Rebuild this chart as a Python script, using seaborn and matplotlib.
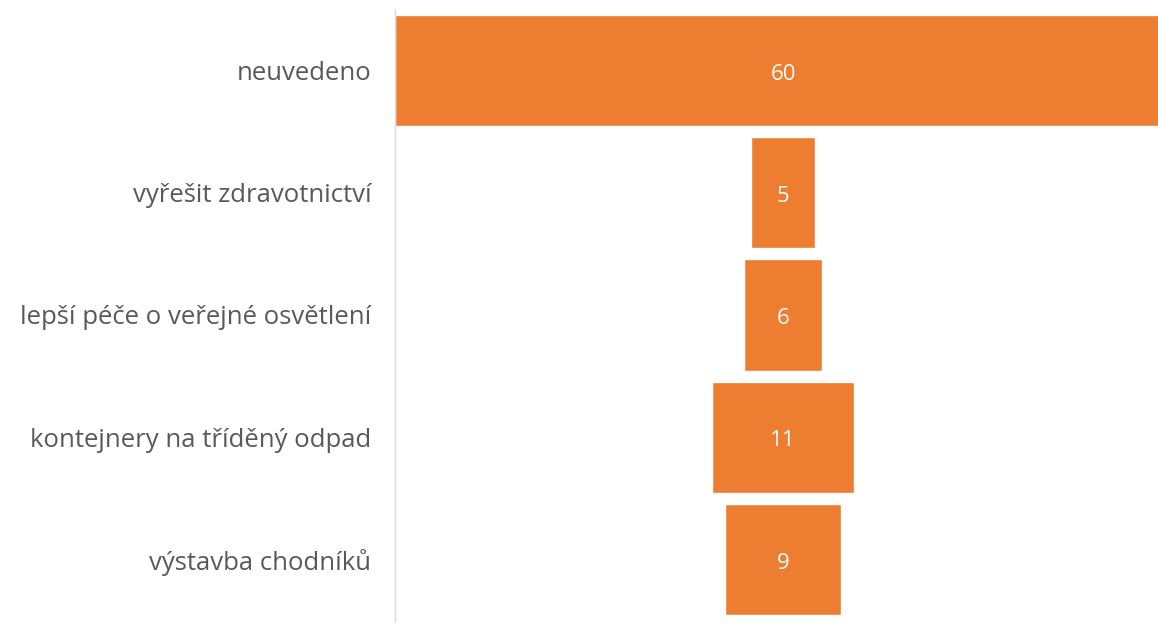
import seaborn as sns
import matplotlib.pyplot as plt

# data
categories = ['neuvedeno', 'vyřešit zdravotnictví', 'lepší péče o veřejné osvětlení',
              'kontejnery na tříděný odpad', 'výstavba chodníků']
values = [60, 5, 6, 11, 9]

sns.set_theme(style='white')
plt.rcParams['font.family'] = ['Open Sans', 'DejaVu Sans']

fig = plt.figure(figsize=(11.58, 6.3), dpi=100)
# the widest bar runs a little past the right edge of the picture
ax = fig.add_axes([395 / 1158, 9.5 / 630, 776 / 1158, 611 / 630])

sns.barplot(x=values, y=categories, color='#ED7D31', saturation=1, width=0.91, ax=ax)

# center the bars -> funnel
vmax = max(values)
for patch, v in zip(ax.patches, values):
    patch.set_x((vmax - v) / 2)
    ax.text(vmax / 2, patch.get_y() + patch.get_height() / 2 + 0.03, str(v),
            ha='center', va='center', color='white', fontsize=16)

ax.set_xlim(0, vmax)
ax.set_ylim(4.5, -0.5)
ax.set_xticks([])
ax.set_xlabel('')
ax.set_ylabel('')
ax.tick_params(axis='y', length=0, pad=17, labelsize=18.5, labelcolor='#595959')
for s in ['top', 'right', 'bottom']:
    ax.spines[s].set_visible(False)
ax.spines['left'].set_color('#d9d9d9')
ax.spines['left'].set_linewidth(1)

fig.savefig('out.png', dpi=100)
